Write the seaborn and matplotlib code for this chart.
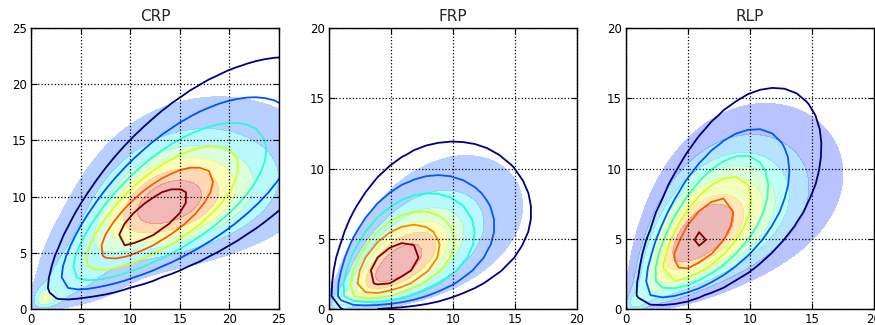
import numpy as np
import pandas as pd
import matplotlib
matplotlib.use("Agg")
import matplotlib.pyplot as plt
from matplotlib.colors import ListedColormap
import seaborn as sns

# ---------------- data ----------------
panels = ["CRP", "FRP", "RLP"]
x_max = [25, 20, 20]
y_max = [25, 20, 20]
support_max = [45, 32, 32]          # extent of the evaluation grid (data units)

# fitted model (line contours): mode (linear units), spread in sqrt-space, correlation
fit_mode_x = [12.0, 5.0, 6.0]
fit_mode_y = [8.0, 3.0, 5.0]
fit_sd_x = [1.11, 0.91, 0.79]
fit_sd_y = [0.98, 0.87, 0.90]
fit_rho = [0.75, 0.52, 0.67]
fit_peak_over_step = [6.66, 6.85, 6.10]   # peak density / contour step
fit_n_lines = 6

# empirical density (filled contours): main body, lower-left arm, corner pile-up
emp_mode_x = [[14.0, 4.0, 1.3], [5.7, 2.5, 0.8], [6.4, 2.5, 0.6]]
emp_mode_y = [[9.5, 3.0, 0.8], [3.3, 1.2, 0.4], [5.6, 1.8, 0.3]]
emp_sd_x = [[0.70, 0.75, 0.30], [0.64, 0.60, 0.30], [0.68, 0.70, 0.30]]
emp_sd_y = [[0.515, 0.75, 0.30], [0.61, 0.60, 0.30], [0.60, 0.70, 0.30]]
emp_rho = [[0.36, 0.50, 0.0], [0.60, 0.50, 0.0], [0.50, 0.50, 0.0]]
emp_weight = [[1.0, 0.30, 0.60], [1.0, 0.15, 0.45], [1.0, 0.30, 0.45]]
# density fractions (of the peak) bounding the filled bands
emp_levels = [
    [0.05, 0.20, 0.36, 0.52, 0.68, 0.84, 1.0],
    [0.05, 0.20, 0.36, 0.52, 0.68, 0.84, 1.0],
    [0.05, 0.15, 0.26, 0.37, 0.48, 0.59, 0.69, 0.80, 1.0],
]

JET = matplotlib.colormaps["jet"]


def sqrt_gauss(X, Y, mx, my, sx, sy, rho):
    u = (np.sqrt(X) - np.sqrt(mx)) / sx
    v = (np.sqrt(Y) - np.sqrt(my)) / sy
    q = (u * u - 2 * rho * u * v + v * v) / (1 - rho * rho)
    return np.exp(-0.5 * q)


def iso_props(w, fracs):
    """iso-proportion of mass lying below density level f*max."""
    w = np.asarray(w)
    tot = w.sum()
    m = w.max()
    return [float(w[w < f * m].sum() / tot) for f in fracs]


def wsd(d, col, wcol):
    m = np.average(d[col], weights=d[wcol])
    return float(np.sqrt(np.average((d[col] - m) ** 2, weights=d[wcol])))


# ---------------- style ----------------
sns.set_style("ticks")
plt.rcParams.update({
    "font.family": ["DejaVu Sans"],
    "axes.edgecolor": "black",
    "axes.linewidth": 1.0,
    "xtick.direction": "in",
    "ytick.direction": "in",
    "xtick.top": True,
    "ytick.right": True,
    "xtick.color": "black",
    "ytick.color": "black",
    "xtick.labelsize": 8.5,
    "ytick.labelsize": 8.5,
    "xtick.major.size": 4,
    "ytick.major.size": 4,
    "xtick.major.pad": 3,
    "ytick.major.pad": 3,
})

fig = plt.figure(figsize=(8.75, 3.25), dpi=100)
lefts = [31 / 875, 329 / 875, 626 / 875]
axes = [fig.add_axes([l, 16 / 325, 248 / 875, 281 / 325]) for l in lefts]

step = 0.35
for i, ax in enumerate(axes):
    g = np.arange(step / 2, support_max[i], step)
    X, Y = np.meshgrid(g, g)

    emp = np.zeros_like(X)
    for k in range(len(emp_weight[i])):
        emp += emp_weight[i][k] * sqrt_gauss(X, Y, emp_mode_x[i][k], emp_mode_y[i][k],
                                             emp_sd_x[i][k], emp_sd_y[i][k], emp_rho[i][k])
    fit = sqrt_gauss(X, Y, fit_mode_x[i], fit_mode_y[i], fit_sd_x[i], fit_sd_y[i], fit_rho[i])

    df = pd.DataFrame({"x": X.ravel(), "y": Y.ravel(),
                       "w_emp": emp.ravel(), "w_fit": fit.ravel()})

    # filled contours (empirical density)
    de = df[df.w_emp > 1e-4 * df.w_emp.max()]
    lev = emp_levels[i]
    nb = len(lev) - 1
    band_cmap = ListedColormap([JET((j + 1.5) / (nb + 1)) for j in range(nb)])
    sns.kdeplot(data=de, x="x", y="y", weights="w_emp", fill=True,
                levels=iso_props(de.w_emp, lev[:-1]) + [1.0],
                cmap=band_cmap, alpha=0.28, bw_method=0.45 / wsd(de, "x", "w_emp"),
                gridsize=120, clip=((0, None), (0, None)), ax=ax)

    # line contours (fitted model)
    dfit = df[df.w_fit > 1e-4 * df.w_fit.max()]
    lf = [k / fit_peak_over_step[i] for k in range(1, fit_n_lines + 1)]
    sns.kdeplot(data=dfit, x="x", y="y", weights="w_fit", fill=False,
                levels=iso_props(dfit.w_fit, lf), cmap=JET,
                linewidths=1.3, bw_method=0.3 / wsd(dfit, "x", "w_fit"),
                gridsize=int(support_max[i] / 0.9),
                clip=((0, None), (0, None)), ax=ax)

    ax.set_xlim(0, x_max[i])
    ax.set_ylim(0, y_max[i])
    ax.set_xticks(np.arange(0, x_max[i] + 1, 5))
    ax.set_yticks(np.arange(0, y_max[i] + 1, 5))
    ax.grid(True, color="black", linestyle=":", linewidth=0.9)
    ax.set_axisbelow(False)
    ax.set_xlabel("")
    ax.set_ylabel("")
    ax.set_title(panels[i], fontsize=11, pad=5)
    for s in ax.spines.values():
        s.set_visible(True)
        s.set_color("black")

fig.savefig("out.png", dpi=100)
